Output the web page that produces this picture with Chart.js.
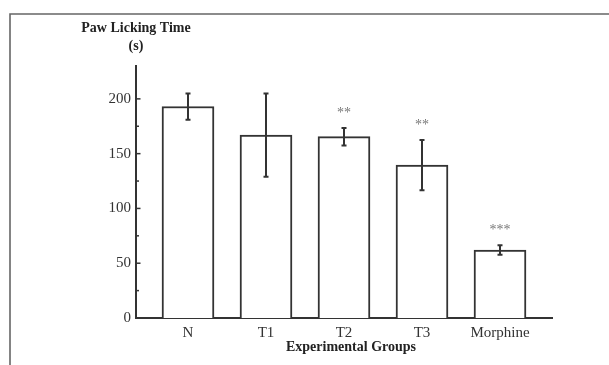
<!DOCTYPE html>
<html>
<head>
<meta charset="utf-8">
<script src="https://cdn.jsdelivr.net/npm/chart.js@4/dist/chart.umd.min.js"></script>
<style>
  body { margin: 0; background: #fff; }
  canvas { display: block; }
</style>
</head>
<body>
<canvas id="chart" width="609" height="365"></canvas>
<script>
// data
const categories = ['N', 'T1', 'T2', 'T3', 'Morphine']
const means = [193, 167, 165.5, 139.5, 62]
const errors = [12, 38, 8, 23, 4.3]
const stars = ['', '', '**', '**', '***']
const yTicks = [0, 50, 100, 150, 200]
const yMinorTicks = [25, 75, 125, 175]

const serif = '"Liberation Serif", "Times New Roman", serif'
const ink = '#333'

// frame, error bars, stars, inward ticks, titles
const extras = {
    id: 'extras',
    beforeDraw(chart) {
        let c = chart.ctx
        c.save()
        c.strokeStyle = '#666'
        c.lineWidth = 1.6
        c.beginPath()
        c.moveTo(10, 365)
        c.lineTo(10, 14)
        c.lineTo(609, 14)
        c.stroke()
        c.restore()
    },
    afterDraw(chart) {
        let c = chart.ctx
        let x = chart.scales.x
        let y = chart.scales.y
        c.save()
        c.strokeStyle = ink
        c.lineWidth = 2
        means.forEach((m, i) => {
            let px = x.getPixelForValue(i + 1)
            let top = y.getPixelForValue(m + errors[i])
            let bot = y.getPixelForValue(m - errors[i])
            c.beginPath()
            c.moveTo(px, top); c.lineTo(px, bot)
            c.moveTo(px - 2.5, top); c.lineTo(px + 2.5, top)
            c.moveTo(px - 2.5, bot); c.lineTo(px + 2.5, bot)
            c.stroke()
            if (stars[i]) {
                c.fillStyle = '#777'
                c.font = '14px ' + serif
                c.textAlign = 'center'
                c.textBaseline = 'middle'
                c.fillText(stars[i], px, top - 15)
            }
        })
        // ticks pointing into the plot
        let ax = y.right
        c.lineWidth = 1.5
        yTicks.forEach(v => {
            let py = y.getPixelForValue(v)
            c.beginPath(); c.moveTo(ax, py); c.lineTo(ax + 4.5, py); c.stroke()
        })
        yMinorTicks.forEach(v => {
            let py = y.getPixelForValue(v)
            c.beginPath(); c.moveTo(ax, py); c.lineTo(ax + 3, py); c.stroke()
        })
        // axis titles
        c.fillStyle = '#222'
        c.font = 'bold 14px ' + serif
        c.textAlign = 'center'
        c.textBaseline = 'middle'
        c.fillText('Paw Licking Time', ax, 28)
        c.fillText('(s)', ax, 46)
        c.fillText('Experimental Groups', 351, 347)
        c.restore()
    }
}

new Chart(document.getElementById('chart'), {
    type: 'bar',
    data: {
        datasets: [{
            data: means.map((m, i) => ({ x: i + 1, y: m })),
            backgroundColor: '#fff',
            borderColor: ink,
            borderWidth: 2,
            barThickness: 52
        }]
    },
    options: {
        responsive: false,
        animation: false,
        layout: { padding: { left: 100, right: 57, top: 66, bottom: 17 } },
        plugins: { legend: { display: false }, tooltip: { enabled: false } },
        scales: {
            x: {
                type: 'linear',
                offset: false,
                min: 1 / 3,
                max: 17 / 3,
                afterFit: s => { s.height = 30 },
                afterBuildTicks: s => { s.ticks = categories.map((_, i) => ({ value: i + 1 })) },
                grid: { display: false, drawTicks: false, offset: false },
                border: { color: ink, width: 2 },
                ticks: {
                    padding: 6,
                    color: '#333',
                    font: { family: serif, size: 15 },
                    callback: v => categories[v - 1]
                }
            },
            y: {
                min: 0,
                max: 230,
                afterFit: s => { s.width = 36 },
                afterBuildTicks: s => { s.ticks = yTicks.map(v => ({ value: v })) },
                grid: { display: false, drawTicks: false },
                border: { color: ink, width: 2 },
                ticks: {
                    padding: 5,
                    color: '#333',
                    font: { family: serif, size: 15 }
                }
            }
        }
    },
    plugins: [extras]
})
</script>
</body>
</html>
